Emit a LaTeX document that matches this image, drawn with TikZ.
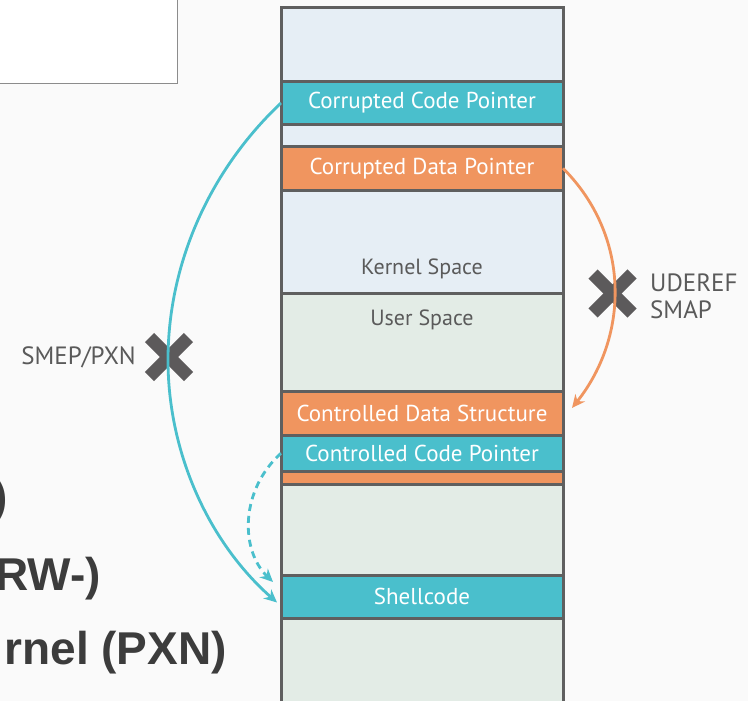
\documentclass[tikz,border=0pt]{standalone}
\usepackage{fontspec}
\setmainfont{PT Sans}
\newfontfamily\boldf{Liberation Sans}
\usetikzlibrary{arrows.meta,calc}
\definecolor{bg}{HTML}{FAFAFA}
\definecolor{cy}{HTML}{4ABFCC}
\definecolor{og}{HTML}{F0955F}
\definecolor{lb}{HTML}{E6EEF5}
\definecolor{lg}{HTML}{E3ECE6}
\definecolor{bd}{HTML}{5F5F5F}
\definecolor{xg}{HTML}{5C5A5B}
\definecolor{tg}{HTML}{5A5A5A}
\definecolor{bt}{HTML}{3C3C3C}
\tikzset{
  row/.style={draw=bd, line width=3pt, minimum width=282pt, inner sep=0pt, outer sep=0pt,
    text=white, font=\fontsize{23}{23}\selectfont},
  spacetext/.style={text=tg, font=\fontsize{22}{22}\selectfont, inner sep=0pt},
  sidetext/.style={text=tg, font=\fontsize{25}{25}\selectfont, inner sep=0pt},
  bigtext/.style={text=bt, font=\boldf\bfseries\fontsize{46}{46}\selectfont, inner sep=0pt},
  cross/.style={draw=xg, line width=13pt},
  cyarrow/.style={draw=cy, line width=2.8pt, -{Stealth[length=13pt,width=12pt]}},
  ogarrow/.style={draw=og, line width=2.8pt, -{Stealth[length=13pt,width=12pt]}},
}
\begin{document}
\begin{tikzpicture}[x=1pt,y=-1pt]
\clip (0,0) rectangle (748,701);
\fill[bg] (0,0) rectangle (748,701);
% top-left box
\draw[draw=gray!90, fill=white, line width=1.5pt] (-5,-5) rectangle (177.5,83.5);
% left partial big text
\node[bigtext, anchor=base east] (t1) at (8,512) {)};
\node[bigtext, anchor=base east] (t2) at (101,590) {RW-)};
\node[bigtext, anchor=base east] (t3) at (227,664) {rnel (PXN)};
% memory column
\node[row, fill=lb, minimum height=73.5pt] (top) at (422,44.75) {};
\node[row, fill=cy, minimum height=43pt] (ccp) at (422,103) {Corrupted Code Pointer};
\node[row, fill=lb, minimum height=22pt] (gap) at (422,135.5) {};
\node[row, fill=og, minimum height=43.5pt] (cdp) at (422,168.25) {Corrupted Data Pointer};
\node[row, fill=lb, minimum height=103pt] (kern) at (422,241.5) {};
\node[row, fill=lg, minimum height=98pt] (user) at (422,342) {};
\node[row, fill=og, minimum height=44pt] (cds) at (422,413) {Controlled Data Structure};
\node[row, fill=cy, minimum height=36.5pt] (ccp2) at (422,453.25) {Controlled Code Pointer};
\node[row, fill=og, minimum height=13pt] (strip) at (422,478) {};
\node[row, fill=lg, minimum height=90.5pt] (mid) at (422,529.75) {};
\node[row, fill=cy, minimum height=43pt] (shell) at (422,596.5) {Shellcode};
\node[row, fill=lg, minimum height=112pt] (bot) at (422,674) {};
\node[spacetext] (ks) at (422,269) {Kernel Space};
\node[spacetext] (us) at (422,320) {User Space};
% crosses
\coordinate (x1) at (169,357);
\coordinate (x2) at (612.5,293.5);
\draw[cross] ($(x1)+(-19.5,-19.5)$) -- ($(x1)+(19.5,19.5)$);
\draw[cross] ($(x1)+(-19.5,19.5)$) -- ($(x1)+(19.5,-19.5)$);
\draw[cross] ($(x2)+(-19.5,-19.5)$) -- ($(x2)+(19.5,19.5)$);
\draw[cross] ($(x2)+(-19.5,19.5)$) -- ($(x2)+(19.5,-19.5)$);
% labels
\node[sidetext, anchor=east] (smep) at (136,357) {SMEP/PXN};
\node[sidetext, anchor=west] (uderef) at (650,283) {UDEREF};
\node[sidetext, anchor=west] (smap) at (650,310) {SMAP};
% arrows
\coordinate (mid1) at (168,360);
\coordinate (shtip) at ($(shell.west)+(-4,6)$);
\coordinate (shtip2) at ($(shell.west)+(-8,-14.5)$);
\coordinate (cdtip) at ($(cds.east)+(9,-5)$);
\draw[cyarrow] (ccp.west) .. controls +(-71,67) and +(0,-97) .. (mid1)
   .. controls +(0,92) and +(-69,-61) .. (shtip);
\draw[cyarrow, dash pattern=on 7pt off 5pt] (ccp2.west) .. controls +(-41,37) and +(-33,-32) .. (shtip2);
\draw[ogarrow] (cdp.east) .. controls +(67,67) and +(58,-73) .. (cdtip);
\end{tikzpicture}
\end{document}
